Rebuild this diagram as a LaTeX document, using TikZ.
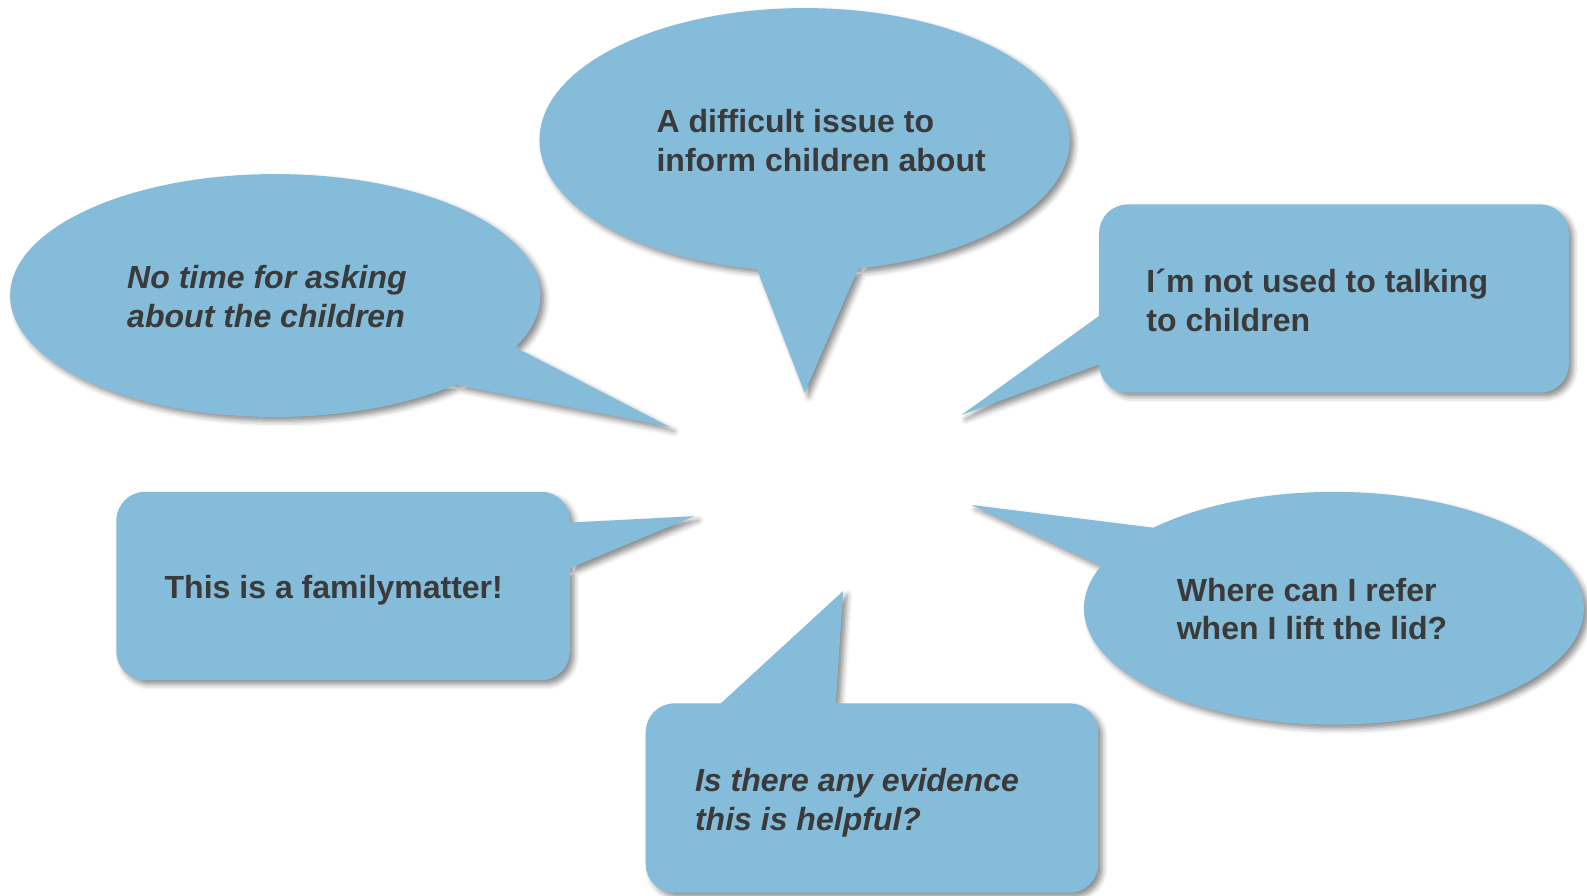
\documentclass[tikz,border=0pt]{standalone}
\usepackage{fontspec}
\setmainfont{Liberation Sans}
\usetikzlibrary{shadows.blur}
\definecolor{bubblefill}{RGB}{132,188,218}
\definecolor{bubbletext}{RGB}{58,58,58}
\begin{document}
\begin{tikzpicture}[
    x=0.01cm, y=0.01cm,
    bubble/.style={fill=bubblefill, blur shadow={shadow xshift=1.2pt, shadow yshift=-1.2pt, shadow blur radius=1.5pt, shadow opacity=45}},
    saying/.style={anchor=west, align=left, inner sep=0pt, text=bubbletext, font=\fontsize{9}{10.8}\selectfont\bfseries},
    asking/.style={saying, font=\fontsize{9}{10.8}\selectfont\bfseries\itshape},
]
    \useasboundingbox (0,0) rectangle (1568,885);

    \fill[bubble] (795,747) ellipse [x radius=262, y radius=130]
        (744,629) -- (795,497) -- (852,629) -- cycle;
    \fill[bubble] (272,593) ellipse [x radius=262, y radius=120]
        (439,507) -- (662,463) -- (497,548) -- cycle;
    \fill[bubble] (1318,284) ellipse [x radius=247, y radius=115]
        (1152,362) -- (960,386) -- (1100,320) -- cycle;
    \fill[bubble] [rounded corners=8pt] (1086,683) -- (1086,497) -- (1550,497) -- (1550,683) -- cycle
        [sharp corners] (1100,583) -- (950,475) -- (1100,530) -- cycle;
    \fill[bubble] [rounded corners=8pt] (115,399) -- (115,213) -- (563,213) -- (563,399) -- cycle
        [sharp corners] (550,318) -- (686,375) -- (550,368) -- cycle;
    \fill[bubble] [rounded corners=8pt] (638,190) -- (638,3) -- (1085,3) -- (1085,190) -- cycle
        [sharp corners] (825,177) -- (833,301) -- (698,177) -- cycle;

    \node[saying] (difficult) at (648,746) {A difficult issue to\\inform children about};
    \node[asking] (notime) at (125,592) {No time for asking\\about the children};
    \node[saying] (notused) at (1132,588) {I´m not used to talking\\to children};
    \node[saying] (family) at (162,302) {This is a familymatter!};
    \node[saying] (refer) at (1162,283) {Where can I refer\\when I lift the lid?};
    \node[asking] (evidence) at (686,92) {Is there any evidence\\this is helpful?};
\end{tikzpicture}
\end{document}
